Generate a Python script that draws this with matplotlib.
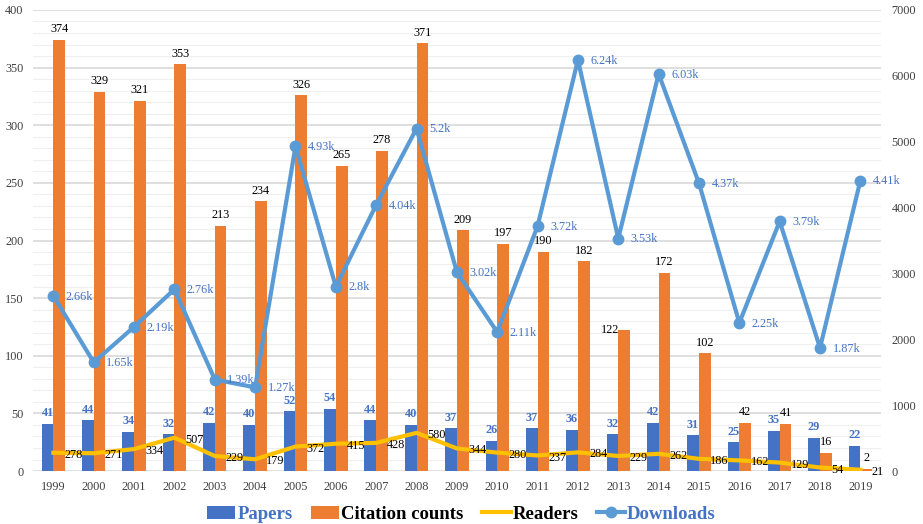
import matplotlib.pyplot as plt
import numpy as np

years = [str(y) for y in range(1999, 2020)]
papers = [41, 44, 34, 32, 42, 40, 52, 54, 44, 40, 37, 26, 37, 36, 32, 42, 31, 25, 35, 29, 22]
citations = [374, 329, 321, 353, 213, 234, 326, 265, 278, 371, 209, 197, 190, 182, 122, 172, 102, 42, 41, 16, 2]
readers = [278, 271, 334, 507, 229, 179, 372, 415, 428, 580, 344, 280, 237, 284, 229, 262, 186, 162, 129, 54, 21]
downloads = [2660, 1650, 2190, 2760, 1390, 1270, 4930, 2800, 4040, 5200, 3020, 2110, 3720, 6240, 3530, 6030, 4370, 2250, 3790, 1870, 4410]

plt.rcParams['font.family'] = ['Liberation Serif', 'DejaVu Serif']

c_pap = '#4472C4'
c_cit = '#ED7D31'
c_read = '#FFC000'
c_down = '#5B9BD5'
fs = 8.8

fig = plt.figure(figsize=(9.23, 5.24), dpi=100)
ax = fig.add_axes([0.036, 0.101, 0.918, 0.880])
ax2 = ax.twinx()

x = np.arange(len(years))
w = 0.29
bp = ax.bar(x - w / 2, papers, w, color=c_pap, label='Papers', zorder=2)
bc = ax.bar(x + w / 2, citations, w, color=c_cit, label='Citation counts', zorder=2)

ax.set_ylim(0, 400)
ax.set_xlim(-0.5, len(years) - 0.5)
ax.set_yticks(range(0, 401, 50))
ax.set_yticks(range(0, 401, 10), minor=True)
ax.grid(axis='y', which='major', color='#d9d9d9', lw=1.2, zorder=0)
ax.grid(axis='y', which='minor', color='#efefef', lw=0.8, zorder=0)
ax.set_axisbelow(True)
ax.set_xticks(x)
ax.set_xticklabels(years)
for a in (ax, ax2):
    for s in a.spines.values():
        s.set_visible(False)
    a.tick_params(which='both', length=0, labelsize=fs, colors='#404040')
ax.tick_params(axis='x', pad=7)
ax.tick_params(axis='y', pad=7)
ax2.tick_params(axis='y', pad=8)

for i in range(len(years)):
    ax.text(x[i] - w / 2, papers[i] + 4, str(papers[i]), ha='center', va='bottom',
            color=c_pap, fontsize=fs, fontweight='bold')
    if years[i] == '2013':
        ax.text(x[i] + 0.02, citations[i], str(citations[i]), ha='right', va='center', fontsize=fs)
    else:
        ax.text(x[i] + w / 2, citations[i] + 4, str(citations[i]), ha='center', va='bottom', fontsize=fs)

lr, = ax2.plot(x, readers, color=c_read, lw=3, label='Readers', zorder=3)
ld, = ax2.plot(x, downloads, color=c_down, lw=3, marker='o', ms=7.5, label='Downloads', zorder=4)
ax2.set_ylim(0, 7000)
ax2.set_yticks(range(0, 7001, 1000))

for i in range(len(years)):
    ax2.annotate(str(readers[i]), (x[i], readers[i]), xytext=(8, -1.5), textcoords='offset points',
                 ha='left', va='center', fontsize=fs, zorder=5)
    k = downloads[i] / 1000
    lab = ('%.2f' % k).rstrip('0').rstrip('.') + 'k'
    ax2.annotate(lab, (x[i], downloads[i]), xytext=(9, -0.5), textcoords='offset points',
                 ha='left', va='center', fontsize=fs, color=c_pap, zorder=5)

ax.set_zorder(1)
ax2.set_zorder(2)
ax2.patch.set_visible(False)

leg = fig.legend([bp, bc, lr, ld], ['Papers', 'Citation counts', 'Readers', 'Downloads'],
                 loc='lower center', bbox_to_anchor=(0.5, -0.03), ncol=4, frameon=False,
                 prop={'size': 13.5, 'weight': 'bold'}, handlelength=1.5, columnspacing=1.0,
                 handletextpad=0.1)
for t, c in zip(leg.get_texts(), [c_pap, 'black', 'black', c_pap]):
    t.set_color(c)

fig.savefig('out.png', dpi=100)
